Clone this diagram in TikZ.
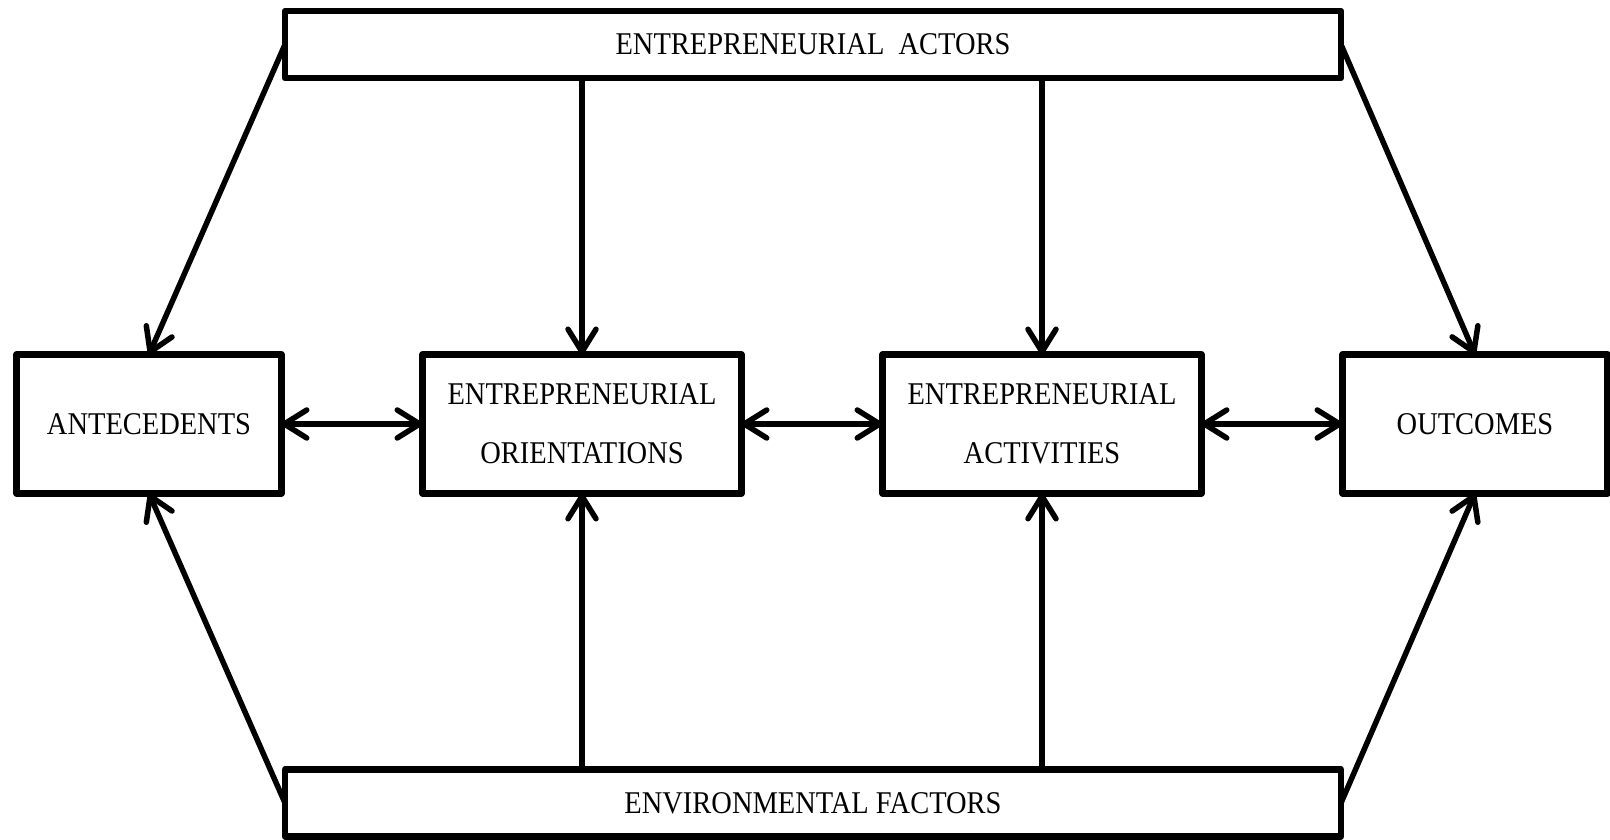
\documentclass[tikz,border=0pt]{standalone}
\usepackage{fontspec}
\setmainfont[FakeStretch=0.9]{Liberation Serif}
\usepackage{tikz}
\usetikzlibrary{arrows.meta, positioning}

\begin{document}
\begin{tikzpicture}[
  node distance = 2.82cm,
  box/.style    = {rectangle, draw=black, line width=0.13cm, line join=round,
                   outer sep=0pt, minimum height=2.78cm, align=center,
                   font=\fontsize{18pt}{33.5pt}\selectfont},
  endbox/.style = {box, minimum width=5.3cm},
  midbox/.style = {box, minimum width=6.38cm},
  bandbox/.style= {box, minimum width=21.12cm, minimum height=1.34cm},
  arrow/.style  = {-{Straight Barb[length=0.45cm, width=0.56cm, round]},
                   line width=0.11cm},
  dblarrow/.style={{Straight Barb[length=0.45cm, width=0.56cm, round]}-{Straight Barb[length=0.45cm, width=0.56cm, round]},
                   line width=0.11cm},
]
\useasboundingbox (0,0) rectangle (32.2,16.8);

%% --- Middle row ---
\node[endbox] (ante) at (2.98,8.32) {ANTECEDENTS};
\node[midbox, right=of ante]   (orient) {ENTREPRENEURIAL\\ORIENTATIONS};
\node[midbox, right=of orient] (activ)  {ENTREPRENEURIAL\\ACTIVITIES};
\node[endbox, right=of activ]  (outc)   {OUTCOMES};

%% --- Top and bottom bands ---
\node[bandbox] (actors) at (16.26,15.91) {ENTREPRENEURIAL\ \ ACTORS};
\node[bandbox] (env)    at (16.26,0.74)  {ENVIRONMENTAL FACTORS};

%% --- Arrows from actors ---
\draw[arrow] (actors.west) -- (ante.north);
\draw[arrow] (actors.south -| orient.north) -- (orient.north);
\draw[arrow] (actors.south -| activ.north)  -- (activ.north);
\draw[arrow] (actors.east) -- (outc.north);

%% --- Arrows from environment ---
\draw[arrow] (env.west) -- (ante.south);
\draw[arrow] (env.north -| orient.south) -- (orient.south);
\draw[arrow] (env.north -| activ.south)  -- (activ.south);
\draw[arrow] (env.east) -- (outc.south);

%% --- Two-way links ---
\draw[dblarrow] (ante)   -- (orient);
\draw[dblarrow] (orient) -- (activ);
\draw[dblarrow] (activ)  -- (outc);

\end{tikzpicture}
\end{document}
